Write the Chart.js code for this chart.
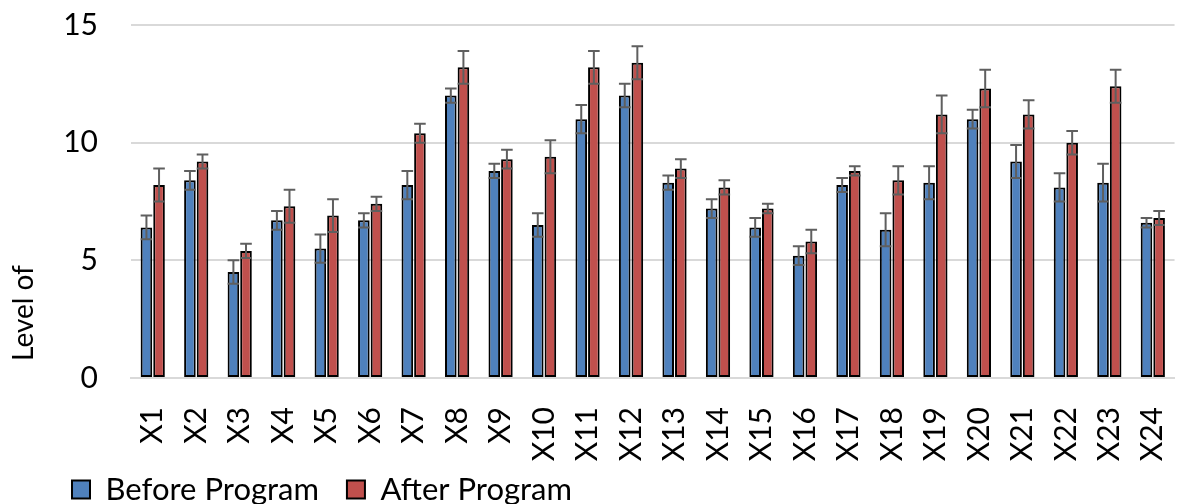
<!DOCTYPE html>
<html>
<head>
<meta charset="utf-8">
<script src="https://cdn.jsdelivr.net/npm/chart.js@4/dist/chart.umd.min.js"></script>
<style>
  html, body { margin: 0; padding: 0; background: #fff; overflow: hidden; }
  #wrap { width: 1210px; height: 504px; }
</style>
</head>
<body>
<div id="wrap"><canvas id="chart"></canvas></div>
<script>
// data
var categories = ['X1','X2','X3','X4','X5','X6','X7','X8','X9','X10','X11','X12',
                  'X13','X14','X15','X16','X17','X18','X19','X20','X21','X22','X23','X24'];
var beforeValues = [6.4, 8.4, 4.5, 6.7, 5.5, 6.7, 8.2, 12.0, 8.8, 6.5, 11.0, 12.0,
                    8.3, 7.2, 6.4, 5.2, 8.2, 6.3, 8.3, 11.0, 9.2, 8.1, 8.3, 6.6];
var afterValues = [8.2, 9.2, 5.4, 7.3, 6.9, 7.4, 10.4, 13.2, 9.3, 9.4, 13.2, 13.4,
                   8.9, 8.1, 7.2, 5.8, 8.8, 8.4, 11.2, 12.3, 11.2, 10.0, 12.4, 6.8];
var beforeErr = [0.5, 0.4, 0.5, 0.4, 0.6, 0.3, 0.6, 0.3, 0.3, 0.5, 0.6, 0.5,
                 0.3, 0.4, 0.4, 0.4, 0.3, 0.7, 0.7, 0.4, 0.7, 0.6, 0.8, 0.2];
var afterErr = [0.7, 0.3, 0.3, 0.7, 0.7, 0.3, 0.4, 0.7, 0.4, 0.7, 0.7, 0.7,
                0.4, 0.3, 0.2, 0.5, 0.2, 0.6, 0.8, 0.8, 0.6, 0.5, 0.7, 0.3];
var yTicks = [0, 5, 10, 15];
var yTitle = 'Level of';

var FONT = 'Lato, "Open Sans", sans-serif';

// error bars (both directions), drawn with the y scale
var errorBars = {
    id: 'errorBars',
    afterDatasetsDraw: function(chart) {
        var ctx = chart.ctx;
        var y = chart.scales.y;
        ctx.save();
        ctx.strokeStyle = '#5f5f5f';
        ctx.lineWidth = 2;
        chart.data.datasets.forEach(function(ds, i) {
            var meta = chart.getDatasetMeta(i);
            meta.data.forEach(function(bar, j) {
                var v = ds.data[j], e = ds.errors[j];
                var top = y.getPixelForValue(v + e);
                var bot = y.getPixelForValue(v - e);
                var half = bar.width / 2;
                ctx.beginPath();
                ctx.moveTo(bar.x, top); ctx.lineTo(bar.x, bot);
                ctx.moveTo(bar.x - half, top); ctx.lineTo(bar.x + half, top);
                ctx.moveTo(bar.x - half, bot); ctx.lineTo(bar.x + half, bot);
                ctx.stroke();
            });
        });
        ctx.restore();
    }
};

// axis title sits low like the original, legend nudged into place,
// and x labels allowed to run past the axis box (otherwise they get clipped)
var extras = {
    id: 'extras',
    afterLayout: function(chart) {
        var lg = chart.legend;
        lg.left += 44; lg.right += 44;
        lg.top += 11; lg.bottom += 11;
        chart.scales.x.bottom = chart.height;
    },
    afterDraw: function(chart) {
        var ctx = chart.ctx;
        ctx.save();
        ctx.translate(24, 313);
        ctx.rotate(-Math.PI / 2);
        ctx.font = '28px ' + FONT;
        ctx.fillStyle = '#000';
        ctx.textAlign = 'center';
        ctx.textBaseline = 'middle';
        ctx.fillText(yTitle, 0, 0);
        ctx.restore();
    }
};

var ctx = document.getElementById('chart').getContext('2d');
var chart = new Chart(ctx, {
    type: 'bar',
    data: {
        labels: categories,
        datasets: [{
            label: 'Before Program',
            data: beforeValues,
            errors: beforeErr,
            backgroundColor: '#4f81bd',
            borderColor: '#000',
            borderWidth: 2,
            borderSkipped: false
        }, {
            label: 'After Program',
            data: afterValues,
            errors: afterErr,
            backgroundColor: '#c0504d',
            borderColor: '#000',
            borderWidth: 2,
            borderSkipped: false
        }]
    },
    options: {
        responsive: true,
        maintainAspectRatio: false,
        animation: false,
        categoryPercentage: 0.58,
        barPercentage: 0.92,
        layout: { padding: { top: 25, right: 9, left: 0, bottom: 0 } },
        scales: {
            x: {
                grid: { display: false },
                border: { color: '#d9d9d9', width: 2 },
                ticks: {
                    minRotation: 90, maxRotation: 90, padding: 21,
                    color: '#000', font: { family: FONT, size: 30 }
                },
                afterFit: function(scale) { scale.height = 57; }
            },
            y: {
                min: 0, max: 15,
                afterBuildTicks: function(scale) {
                    scale.ticks = yTicks.map(function(v) { return { value: v }; });
                },
                grid: { color: '#d9d9d9', lineWidth: 2, drawTicks: false },
                border: { display: false },
                ticks: { padding: 33, color: '#000', font: { family: FONT, size: 30 } },
                afterFit: function(scale) {
                    scale.width = 131;
                    // tick padding would otherwise push the plot down
                    scale.paddingTop = 0;
                    scale.paddingBottom = 0;
                }
            }
        },
        plugins: {
            legend: {
                position: 'bottom',
                align: 'start',
                labels: {
                    boxWidth: 18, boxHeight: 18, padding: 28,
                    color: '#000', font: { family: FONT, size: 31 }
                }
            },
            tooltip: { enabled: false }
        }
    },
    plugins: [errorBars, extras]
});
</script>
</body>
</html>
